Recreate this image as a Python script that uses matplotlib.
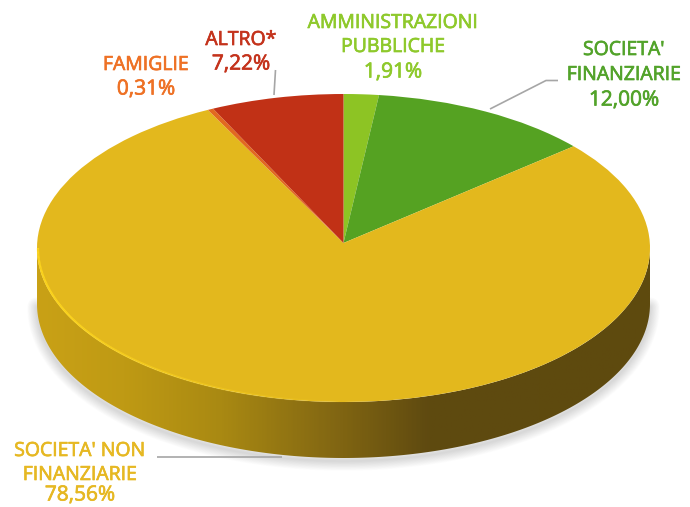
import numpy as np
import matplotlib
matplotlib.use("Agg")
import matplotlib.pyplot as plt
import matplotlib.patheffects as pe
from matplotlib.colors import LinearSegmentedColormap
from matplotlib.patches import Polygon
from matplotlib.collections import LineCollection
from matplotlib.transforms import Transform

categories = ["AMMINISTRAZIONI\nPUBBLICHE", "SOCIETA'\nFINANZIARIE",
              "SOCIETA' NON\nFINANZIARIE", "FAMIGLIE", "ALTRO*"]
values = [1.91, 12.00, 78.56, 0.31, 7.22]
value_labels = ["1,91%", "12,00%", "78,56%", "0,31%", "7,22%"]
colors = ["#8DC424", "#55A222", "#E3B81D", "#E2691F", "#C13116"]
label_colors = ["#8EC92B", "#52A32A", "#E6B822", "#EE7125", "#C4331C"]

W, H = 690, 507
plt.rcParams["font.family"] = ["Open Sans", "DejaVu Sans"]
fig = plt.figure(figsize=(W / 100, H / 100), dpi=100, facecolor="white")


class Perspective(Transform):
    """Projective map of the unit disk onto itself: tilts the pie away from the viewer."""
    input_dims = output_dims = 2

    def __init__(self, s):
        super().__init__()
        self.s = s

    def transform_non_affine(self, xy):
        xy = np.asarray(xy, float)
        d = 1 + self.s * xy[:, 1]
        return np.c_[xy[:, 0] * np.sqrt(1 - self.s ** 2) / d, (xy[:, 1] + self.s) / d]


bg = fig.add_axes([0, 0, 1, 1], zorder=0)
bg.set_xlim(0, W); bg.set_ylim(H, 0); bg.axis("off")

cx, cy, rx, ry, depth = 343.5, 248, 306.5, 154, 56

t = np.linspace(0, np.pi, 300)
ex, ey = cx + rx * np.cos(t), cy + ry * np.sin(t)
rim = np.c_[np.r_[ex, ex[::-1]], np.r_[ey, ey[::-1] + depth]]

low = np.c_[ex, ey + depth + 3]
for lw in np.linspace(1, 14, 13):
    bg.add_patch(Polygon(low, closed=True, fc="none", ec="#808080",
                         lw=lw, alpha=0.022, joinstyle="round"))

cmap = LinearSegmentedColormap.from_list("rim", [
    (0.00, "#C9A116"), (0.14, "#BF9A14"), (0.30, "#A98912"), (0.50, "#7F6412"),
    (0.64, "#5F4A10"), (1.00, "#5E4A0E")])
img = bg.imshow(np.linspace(0, 1, 400)[None, :], cmap=cmap, aspect="auto",
                extent=[cx - rx, cx + rx, cy + ry + depth, cy - 5], zorder=2)
clip = Polygon(rim, closed=True, transform=bg.transData, fc="none", ec="none")
bg.add_patch(clip)
img.set_clip_path(clip)
bg.set_xlim(0, W); bg.set_ylim(H, 0)

ax = fig.add_axes([(cx - rx) / W, 1 - (cy + ry) / H, 2 * rx / W, 2 * ry / H], zorder=1)
ax.patch.set_alpha(0)
wedges, _ = ax.pie(values, colors=colors, startangle=90, counterclock=False, radius=1,
                   wedgeprops=dict(linewidth=0))
ax.set_aspect("auto"); ax.set_xlim(-1, 1); ax.set_ylim(-1, 1)
ax.set_axis_off()
for w in wedges:
    w.set_transform(Perspective(5 / ry) + ax.transData)
    w.set_clip_on(False)

ov = fig.add_axes([0, 0, 1, 1], zorder=2)
ov.set_xlim(0, W); ov.set_ylim(H, 0); ov.axis("off")

a = np.linspace(np.pi, np.pi * 0.47, 200)
hx, hy = cx + (rx - 1) * np.cos(a), cy + (ry - 0.5) * np.sin(a)
pts = np.c_[hx, hy]
segs = np.stack([pts[:-1], pts[1:]], axis=1)
alph = np.clip(np.linspace(1.0, 0, len(segs)) * 1.2, 0, 0.9)
rgba = np.zeros((len(segs), 4)); rgba[:, :3] = matplotlib.colors.to_rgb("#FFD81E"); rgba[:, 3] = alph
ov.add_collection(LineCollection(segs, colors=rgba, linewidths=1.6))

leader = dict(color="#A6A6A6", lw=1.2, solid_capstyle="butt", solid_joinstyle="miter")
ov.plot([275.5, 274], [70, 95], **leader)
ov.plot([490, 546, 558], [109, 80.5, 80.5], **leader)
ov.plot([157, 282], [457, 457], **leader)

layout = [(393, [23, 47, 72]), (624, [50, 75, 100]), (80, [451, 475, 495]),
          (146, [65, 89]), (241, [40, 64])]
for cat, val, col, (x, ys) in zip(categories, value_labels, label_colors, layout):
    lines = cat.split("\n") + [val]
    for i, (line, y) in enumerate(zip(lines, ys)):
        size = 15.0 if i == len(lines) - 1 else 14.0
        ov.text(x, y, line, color=col, fontsize=size, ha="center", va="center",
                path_effects=[pe.withStroke(linewidth=0.5, foreground=col)])

fig.savefig("out.png", dpi=100, facecolor="white")
